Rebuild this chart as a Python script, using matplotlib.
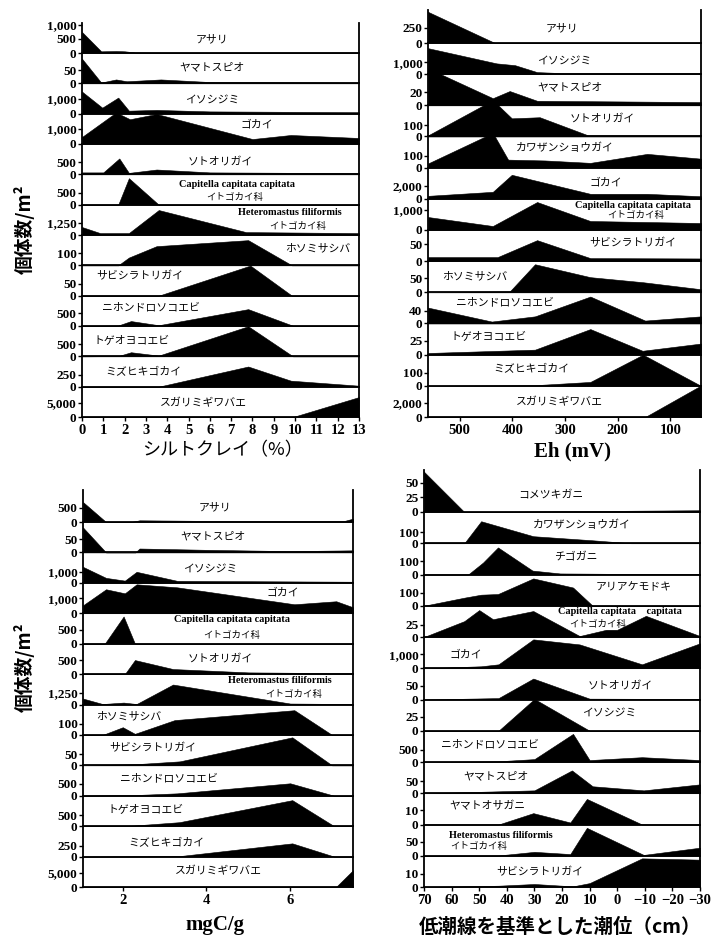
import matplotlib
matplotlib.use("Agg")
import matplotlib.pyplot as plt

plt.rcParams['font.family'] = ['Noto Sans CJK JP', 'DejaVu Sans']
SERIF = ['Liberation Serif', 'DejaVu Serif']

# ---------------- Panel 1: silt-clay (%) ----------------
silt_names = ["アサリ", "ヤマトスピオ", "イソシジミ", "ゴカイ", "ソトオリガイ",
              "Capitella capitata capitata\nイトゴカイ科",
              "Heteromastus filiformis\nイトゴカイ科",
              "ホソミサシバ", "サビシラトリガイ", "ニホンドロソコエビ",
              "トゲオヨコエビ", "ミズヒキゴカイ", "スガリミギワバエ"]
silt_x = [[0, 0.9, 1.6, 2.0, 2.5, 4, 13],
          [0, 0.9, 1.6, 2.1, 3.7, 6, 13],
          [0, 0.95, 1.7, 2.2, 3.5, 6, 13],
          [0, 1.6, 2.25, 3.5, 8.0, 9.8, 13],
          [0, 1.0, 1.75, 2.2, 3.5, 6, 13],
          [0, 1.7, 2.2, 3.6, 13],
          [0, 0.85, 2.2, 3.6, 7.7, 13],
          [0, 1.7, 2.2, 3.5, 7.8, 9.85, 13],
          [0, 3.6, 7.9, 9.85, 13],
          [0, 1.7, 2.3, 3.6, 7.8, 9.9, 13],
          [0, 1.7, 2.3, 3.6, 7.8, 9.9, 13],
          [0, 3.6, 7.8, 9.8, 13],
          [0, 9.9, 13]]
silt_y = [[750, 60, 70, 60, 20, 15, 20],
          [95, 3, 15, 8, 15, 5, 3],
          [1470, 400, 1070, 200, 250, 150, 100],
          [470, 2100, 1650, 2000, 330, 600, 400],
          [80, 80, 660, 60, 200, 80, 50],
          [0, 0, 1100, 0, 0],
          [830, 200, 200, 2600, 300, 200],
          [0, 0, 65, 160, 210, 0, 0],
          [0, 0, 125, 0, 0],
          [0, 20, 190, 30, 650, 10, 10],
          [0, 10, 170, 30, 1250, 0, 0],
          [0, 0, 420, 125, 20],
          [0, 0, 7100]]
silt_ymax = [1070, 117, 2020, 2020, 1260, 1260, 3160, 253, 126, 1170, 1260, 632, 10800]
silt_yticks = [[0, 500, 1000], [0, 50], [0, 1000], [0, 1000], [0, 500], [0, 500],
               [0, 1250], [0, 100], [0, 50], [0, 500], [0, 500], [0, 250], [0, 5000]]
silt_xticks = list(range(0, 14))
silt_xticklabels = [str(v) for v in silt_xticks]

# ---------------- Panel 2: Eh (mV) ----------------
eh_names = ["アサリ", "イソシジミ", "ヤマトスピオ", "ソトオリガイ", "カワザンショウガイ",
            "ゴカイ", "Capitella capitata capitata\nイトゴカイ科", "サビシラトリガイ",
            "ホソミサシバ", "ニホンドロソコエビ", "トゲオヨコエビ", "ミズヒキゴカイ",
            "スガリミギワバエ"]
eh_x = [[560, 433, 42],
        [560, 430, 395, 353, 300, 42],
        [560, 437, 405, 353, 42],
        [560, 437, 401, 348, 256, 42],
        [560, 437, 408, 338, 252, 144, 42],
        [560, 437, 401, 252, 144, 42],
        [560, 437, 353, 252, 42],
        [560, 428, 353, 252, 42],
        [560, 405, 357, 252, 152, 42],
        [560, 439, 357, 252, 148, 42],
        [560, 357, 252, 153, 42],
        [560, 357, 252, 152, 42],
        [560, 148, 42]]
eh_y = [[520, 0, 5],
        [2170, 900, 750, 170, 80, 80],
        [57, 11, 22, 7, 5],
        [10, 330, 165, 175, 10, 10],
        [35, 290, 67, 60, 40, 115, 75],
        [460, 1080, 3700, 770, 770, 400],
        [650, 200, 1400, 450, 350],
        [12, 12, 62, 9, 8],
        [0, 3, 100, 54, 36, 11],
        [49, 6, 22, 83, 9, 22],
        [3, 9, 46, 7, 20],
        [0, 5, 30, 240, 0],
        [0, 0, 4500]]
eh_ymax = [550, 2600, 48, 283, 260, 4800, 1560, 92, 111, 96, 56, 240, 4450]
eh_yticks = [[0, 250], [0, 1000], [0, 20], [0, 100], [0, 100], [0, 2000], [0, 1000],
             [0, 50], [0, 50], [0, 40], [0, 25], [0, 100], [0, 2000]]
eh_xticks = [500, 400, 300, 200, 100]
eh_xticklabels = [str(v) for v in eh_xticks]

# ---------------- Panel 3: mgC/g ----------------
mgc_names = ["アサリ", "ヤマトスピオ", "イソシジミ", "ゴカイ",
             "Capitella capitata capitata\nイトゴカイ科", "ソトオリガイ",
             "Heteromastus filiformis\nイトゴカイ科", "ホソミサシバ", "サビシラトリガイ",
             "ニホンドロソコエビ", "トゲオヨコエビ", "ミズヒキゴカイ", "スガリミギワバエ"]
mgc_x = [[1.05, 1.6, 2.2, 2.4, 4, 6, 7.3, 7.5],
         [1.05, 1.6, 2.3, 2.4, 4, 6, 7.5],
         [1.05, 1.6, 2.05, 2.33, 3.3, 7.5],
         [1.05, 1.6, 2.05, 2.33, 3.3, 6.1, 7.1, 7.5],
         [1.05, 1.57, 2.02, 2.29, 7.5],
         [1.05, 2.05, 2.29, 3.2, 5, 7.5],
         [1.05, 1.52, 2.02, 2.33, 3.2, 6.0, 7.5],
         [1.05, 1.52, 2.0, 2.29, 3.24, 6.1, 7.0, 7.5],
         [1.05, 2.3, 3.36, 6.05, 7.0, 7.5],
         [1.05, 2.3, 3.3, 6.0, 7.05, 7.5],
         [1.05, 2.2, 3.35, 6.05, 7.05, 7.5],
         [1.05, 3.35, 6.05, 7.05, 7.5],
         [1.05, 7.1, 7.5]]
mgc_y = [[710, 0, 0, 60, 40, 30, 40, 120],
         [96, 0, 0, 15, 10, 5, 8],
         [1450, 450, 200, 1000, 180, 100],
         [530, 1600, 1330, 1930, 1730, 600, 800, 400],
         [0, 0, 970, 0, 0],
         [0, 0, 500, 180, 60, 30],
         [620, 50, 200, 50, 2080, 100, 50],
         [0, 0, 70, 10, 135, 225, 0, 0],
         [0, 5, 18, 127, 0, 0],
         [10, 30, 100, 520, 0, 0],
         [0, 20, 180, 1180, 0, 0],
         [0, 10, 300, 0, 0],
         [100, 100, 6000]]
mgc_ymax = [1140, 117, 2760, 2030, 1085, 1085, 3170, 277, 138, 1270, 1380, 690, 10860]
mgc_yticks = [[0, 500], [0, 50], [0, 1000], [0, 1000], [0, 500], [0, 500], [0, 1250],
              [0, 100], [0, 50], [0, 500], [0, 500], [0, 250], [0, 5000]]
mgc_xticks = [2, 4, 6]
mgc_xticklabels = ["2", "4", "6"]

# ---------------- Panel 4: tide level (cm) ----------------
tide_names = ["コメツキガニ", "カワザンショウガイ", "チゴガニ", "アリアケモドキ",
              "Capitella capitata    capitata\nイトゴカイ科", "ゴカイ", "ソトオリガイ",
              "イソシジミ", "ニホンドロソコエビ", "ヤマトスピオ", "ヤマトオサガニ",
              "Heteromastus filiformis\nイトゴカイ科", "サビシラトリガイ"]
tide_x = [[70, 55.4, 30, 0, -30],
          [70, 55.4, 49.3, 30.4, 9, -5, -30],
          [70, 54, 48.6, 43.2, 30.7, 20.7, 0, -30],
          [70, 55.4, 49.3, 43.2, 30.4, 16, 8.9, -30],
          [70, 55.4, 50, 45, 30.4, 13.6, 4, 0, -10.4, -30],
          [70, 49.3, 43, 30.4, 13.6, -9, -30],
          [70, 43, 30.4, 10, -30],
          [70, 43, 30, 10, -30],
          [70, 43, 30, 16, 10, -9, -30],
          [70, 43, 30, 16.4, 8.9, -9.6, -30],
          [70, 43, 30.4, 17, 11, -9, -30],
          [70, 43, 30, 17, 11, -9.6, -30],
          [70, 43, 30, 16, 10, -9, -30]]
tide_y = [[69, 0, 1, 2, 3],
          [0, 0, 200, 64, 27, 0, 0],
          [0, 0, 92, 208, 30, 8, 5, 3],
          [0, 62, 85, 90, 210, 140, 0, 0],
          [0, 33, 56, 37, 54, 2, 15, 15, 44, 2],
          [0, 140, 280, 2060, 1700, 280, 1780],
          [0, 5, 75, 3, 2],
          [0, 0, 57, 0, 0],
          [0, 30, 120, 1170, 80, 200, 80],
          [0, 8, 12, 95, 29, 12, 37],
          [0, 0, 8, 1.4, 18, 0, 0],
          [0, 1, 14, 6, 100, 3, 29],
          [0, 1, 2.3, 0.5, 3, 22, 21]]
tide_ymax = [72, 284, 240, 240, 65, 2230, 112, 56, 1300, 130, 22, 112, 24]
tide_yticks = [[0, 25, 50], [0, 100], [0, 100], [0, 100], [0, 25], [0, 1000], [0, 50],
               [0, 25], [0, 500], [0, 50], [0, 10], [0, 50], [0, 10]]
tide_xticks = [70, 60, 50, 40, 30, 20, 10, 0, -10, -20, -30]
tide_xticklabels = [str(v).replace("-", "\u2212") for v in tide_xticks]

# ---------------- layout (pixels) ----------------
W, H = 721, 938
fig = plt.figure(figsize=(W / 100, H / 100), dpi=100)

silt_lab = [(0.47, 0.45), (0.47, 0.52), (0.47, 0.47), (0.63, 0.63), (0.5, 0.43),
            (0.56, 0.68, 0.55, 0.23), (0.75, 0.74, 0.78, 0.27), (0.85, 0.57),
            (0.21, 0.63), (0.25, 0.63), (0.18, 0.5), (0.22, 0.47), (0.44, 0.47)]
eh_lab = [(0.49, 0.45), (0.5, 0.42), (0.52, 0.58), (0.64, 0.58), (0.5, 0.65),
          (0.65, 0.52), (0.75, 0.78, 0.76, 0.47), (0.75, 0.58), (0.17, 0.5),
          (0.28, 0.68), (0.22, 0.56), (0.38, 0.53), (0.48, 0.48)]
mgc_lab = [(0.49, 0.47), (0.48, 0.53), (0.47, 0.47), (0.74, 0.67),
           (0.55, 0.79, 0.55, 0.28), (0.51, 0.5), (0.73, 0.8, 0.78, 0.33),
           (0.17, 0.61), (0.26, 0.57), (0.32, 0.57), (0.23, 0.53), (0.31, 0.45), (0.5, 0.52)]
tide_lab = [(0.46, 0.4), (0.57, 0.6), (0.55, 0.55), (0.76, 0.6),
            (0.71, 0.8, 0.63, 0.39), (0.15, 0.45), (0.71, 0.45), (0.67, 0.58),
            (0.24, 0.58), (0.26, 0.55), (0.23, 0.6), (0.28, 0.65, 0.2, 0.3), (0.42, 0.48)]


def draw_panel(names, xs, ys, ymaxs, ytks, labpos, xlim, xticks, xticklabels, geom):
    x0, x1, top, z0, zN = geom
    n = len(names)
    step = (zN - z0) / (n - 1)
    for i in range(n):
        zero = z0 + i * step
        t = top if i == 0 else z0 + (i - 1) * step
        ax = fig.add_axes([x0 / W, 1 - zero / H, (x1 - x0) / W, (zero - t) / H])
        ax.set_facecolor('none')
        poly = ax.fill_between(xs[i], 0, ys[i], facecolor='black',
                               edgecolor='black', lw=0.4)
        poly.set_clip_on(False)
        ax.set_xlim(*xlim)
        ax.set_ylim(0, ymaxs[i])
        ax.spines['top'].set_visible(False)
        for s in ('left', 'right', 'bottom'):
            ax.spines[s].set_linewidth(1.3)
        ax.set_yticks(ytks[i])
        ax.set_yticklabels([f"{v:,}" for v in ytks[i]], fontfamily=SERIF,
                           fontweight='bold', fontsize=9.5)
        ax.tick_params(axis='y', direction='out', length=3, width=1, pad=1)
        if i == n - 1:
            ax.set_xticks(xticks)
            ax.set_xticklabels(xticklabels, fontfamily=SERIF, fontweight='bold',
                               fontsize=10.5)
            ax.tick_params(axis='x', direction='out', length=3, width=1, pad=2)
        else:
            ax.set_xticks([])
        p = labpos[i]
        name = names[i]
        if "\n" in name:
            lat, jp = name.split("\n")
            ax.text(p[0], p[1], lat, transform=ax.transAxes, ha='center', va='center',
                    fontfamily=SERIF, fontweight='bold', fontsize=7.4, zorder=5)
            ax.text(p[2], p[3], jp, transform=ax.transAxes, ha='center', va='center',
                    fontsize=6.8, zorder=5)
        else:
            ax.text(p[0], p[1], name, transform=ax.transAxes, ha='center', va='center',
                    fontsize=7.8, zorder=5)


draw_panel(silt_names, silt_x, silt_y, silt_ymax, silt_yticks, silt_lab, (0, 13),
           silt_xticks, silt_xticklabels, (82, 359, 23, 53, 417))
draw_panel(eh_names, eh_x, eh_y, eh_ymax, eh_yticks, eh_lab, (560, 42),
           eh_xticks, eh_xticklabels, (428, 701, 10, 43, 417))
draw_panel(mgc_names, mgc_x, mgc_y, mgc_ymax, mgc_yticks, mgc_lab, (1.05, 7.5),
           mgc_xticks, mgc_xticklabels, (83, 353, 490, 522, 887))
draw_panel(tide_names, tide_x, tide_y, tide_ymax, tide_yticks, tide_lab, (70, -30),
           tide_xticks, tide_xticklabels, (424, 700, 470, 512, 887))

# axis titles
fig.text(24 / W, 1 - 229 / H, "個体数/m²", rotation=90, ha='center', va='center',
         fontsize=13.5, fontweight='bold')
fig.text(24 / W, 1 - 667 / H, "個体数/m²", rotation=90, ha='center', va='center',
         fontsize=13.5, fontweight='bold')
fig.text(222 / W, 1 - 450 / H, "シルトクレイ（%）", ha='center', va='center',
         fontsize=13)
fig.text(572 / W, 1 - 451 / H, "Eh (mV)", ha='center', va='center',
         fontfamily=SERIF, fontweight='bold', fontsize=15)
fig.text(215 / W, 1 - 925 / H, "mgC/g", ha='center', va='center',
         fontfamily=SERIF, fontweight='bold', fontsize=15)
fig.text(560 / W, 1 - 927 / H, "低潮線を基準とした潮位（cm）", ha='center', va='center',
         fontsize=14, fontweight='bold')

fig.savefig("out.png", dpi=100)
